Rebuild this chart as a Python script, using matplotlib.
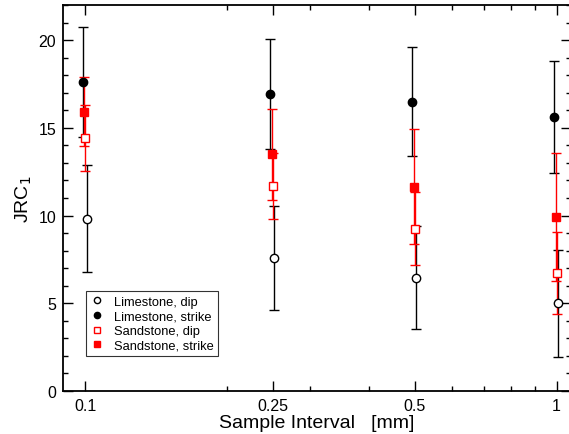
import numpy as np
import matplotlib
matplotlib.use('Agg')
import matplotlib.pyplot as plt
from matplotlib.ticker import FixedLocator, NullFormatter, MultipleLocator

plt.rcParams['font.family'] = ['Liberation Sans', 'DejaVu Sans']

# sample intervals [mm]
intervals = np.array([0.1, 0.25, 0.5, 1.0])

# JRC values, with symmetric error (half-length of bar)
lime_dip = [9.83, 7.59, 6.45, 5.00]
lime_dip_err = [3.05, 2.97, 2.93, 3.04]
lime_strike = [17.61, 16.94, 16.49, 15.60]
lime_strike_err = [3.16, 3.12, 3.10, 3.19]
sand_dip = [14.42, 11.66, 9.26, 6.71]
sand_dip_err = [1.86, 1.88, 2.06, 2.34]
sand_strike = [15.92, 13.49, 11.64, 9.91]
sand_strike_err = [1.96, 2.58, 3.27, 3.65]

x_ticks = [0.1, 0.25, 0.5, 1]
x_ticklabels = ['0.1', '0.25', '0.5', '1']

fig = plt.figure(figsize=(5.69, 4.35), dpi=100)
ax = fig.add_axes([0.1107, 0.0989, 0.892, 0.8873])

# series: values, errors, colour, filled?, marker, small x shift so bars don't overlap
series = [
    ('Limestone, dip', lime_dip, lime_dip_err, 'black', False, 'o', 1.008),
    ('Limestone, strike', lime_strike, lime_strike_err, 'black', True, 'o', 0.988),
    ('Sandstone, dip', sand_dip, sand_dip_err, 'red', False, 's', 1.002),
    ('Sandstone, strike', sand_strike, sand_strike_err, 'red', True, 's', 0.996),
]

handles = []
for label, vals, errs, col, filled, mk, shift in series:
    xs = intervals * shift
    ax.errorbar(xs, vals, yerr=errs, fmt='none', ecolor=col, elinewidth=1.0,
                capsize=3.5, capthick=1.0, zorder=2)
    ms = 6.0 if mk == 'o' else 5.2
    ax.plot(xs, vals, linestyle='none', marker=mk, markersize=ms,
            markerfacecolor=col if filled else 'white', markeredgecolor=col,
            markeredgewidth=1.0, zorder=3)
    # legend handle with smaller marker
    h, = ax.plot([], [], linestyle='none', marker=mk, markersize=4.5,
                 markerfacecolor=col if filled else 'white', markeredgecolor=col,
                 markeredgewidth=1.0, label=label)
    handles.append(h)

ax.set_xscale('log')
ax.set_xlim(0.0898, 1.07)
ax.set_ylim(0, 22)

ax.xaxis.set_major_locator(FixedLocator(x_ticks))
ax.set_xticklabels(x_ticklabels)
ax.xaxis.set_minor_locator(FixedLocator([0.2, 0.3, 0.4, 0.6, 0.7, 0.8, 0.9]))
ax.xaxis.set_minor_formatter(NullFormatter())
ax.yaxis.set_major_locator(MultipleLocator(5))
ax.yaxis.set_minor_locator(MultipleLocator(1))

ax.tick_params(which='both', direction='in', top=True, right=True, width=1.0, colors='black')
ax.tick_params(which='major', length=7, labelsize=11.5, pad=5)
ax.tick_params(which='minor', length=3.5)
for sp in ax.spines.values():
    sp.set_linewidth(1.3)

ax.set_xlabel('Sample Interval   [mm]', fontsize=14, labelpad=1)
ax.set_ylabel('JRC$_1$', fontsize=14, labelpad=3)

leg = ax.legend(handles=handles, loc='lower left', bbox_to_anchor=(0.045, 0.09),
                fontsize=9.3, frameon=True, fancybox=False, borderaxespad=0,
                handlelength=1.0, handletextpad=0.8, labelspacing=0.2,
                borderpad=0.35, numpoints=1)
leg.get_frame().set_edgecolor('black')
leg.get_frame().set_linewidth(0.8)

fig.savefig('out.png', dpi=100)
